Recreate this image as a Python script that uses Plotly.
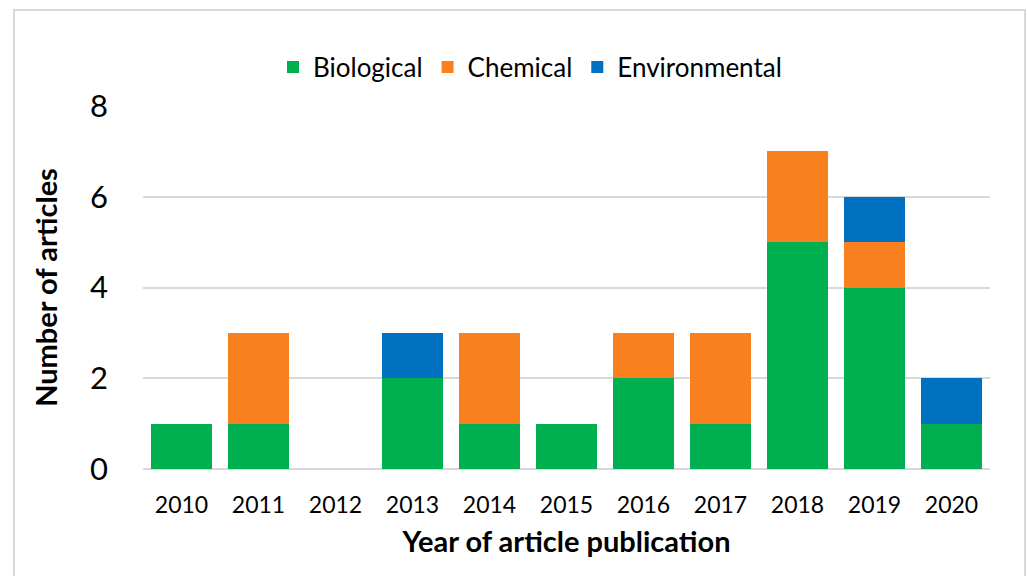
import plotly.graph_objects as go

years = ["2010", "2011", "2012", "2013", "2014", "2015", "2016", "2017", "2018", "2019", "2020"]
biological = [1, 1, 0, 2, 1, 1, 2, 1, 5, 4, 1]
chemical = [0, 2, 0, 0, 2, 0, 1, 2, 2, 1, 0]
environmental = [0, 0, 0, 1, 0, 0, 0, 0, 0, 1, 1]

FONT = "Lato, 'Open Sans', sans-serif"

fig = go.Figure()
fig.add_trace(go.Bar(x=years, y=biological, name="Biological", marker=dict(color="#00B050", line_width=0)))
fig.add_trace(go.Bar(x=years, y=chemical, name="Chemical", marker=dict(color="#F8801E", line_width=0)))
fig.add_trace(go.Bar(x=years, y=environmental, name="Environmental", marker=dict(color="#0070C0", line_width=0)))

L, R, T, B = 143, 37, 106, 107
W, H = 1027, 576
pw, ph = W - L - R, H - T - B

def px_x(p):
    return (p - L) / pw

def px_y(p):
    return (H - B - p) / ph

fig.update_layout(
    barmode="stack",
    bargap=0.22,
    width=W, height=H,
    margin=dict(l=L, r=R, t=T, b=B),
    paper_bgcolor="white",
    plot_bgcolor="white",
    font=dict(family=FONT, color="black"),
    showlegend=True,
    legend=dict(orientation="h", x=px_x(530), xanchor="center", y=px_y(67), yanchor="middle",
                font=dict(size=26, family=FONT), traceorder="normal", itemwidth=30),
    xaxis=dict(
        showgrid=False, showline=False, ticks="",
        tickfont=dict(size=23, family=FONT),
        ticklabelstandoff=20,
        title=dict(text="<b>Year of article publication</b>", font=dict(size=29, family=FONT), standoff=14),
    ),
    yaxis=dict(
        range=[0, 8], dtick=2, showgrid=True, gridcolor="#D9D9D9", gridwidth=1.5,
        zeroline=True, zerolinecolor="#D9D9D9", zerolinewidth=2,
        showline=False, ticks="",
        tickfont=dict(size=31, family=FONT),
        ticklabelstandoff=34,
        title=dict(text="<b>Number of articles</b>", font=dict(size=29, family=FONT), standoff=23),
    ),
    shapes=[dict(type="rect", xref="paper", yref="paper",
                 x0=px_x(14), x1=px_x(1025), y0=px_y(590), y1=px_y(10),
                 line=dict(color="#D9D9D9", width=2), layer="below")],
)

fig.write_html("out.html")
